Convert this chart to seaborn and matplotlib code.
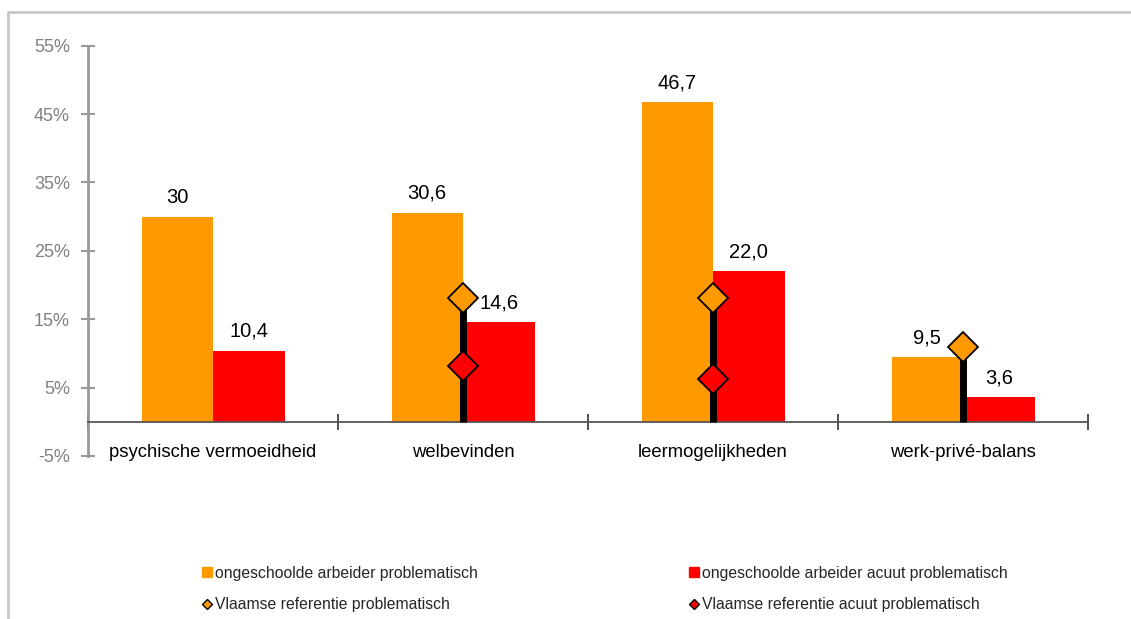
import numpy as np
import pandas as pd
import matplotlib
matplotlib.use('Agg')
import matplotlib.pyplot as plt
from matplotlib.lines import Line2D
import seaborn as sns

categories = ['psychische vermoeidheid', 'welbevinden', 'leermogelijkheden', 'werk-privé-balans']
series = ['ongeschoolde arbeider problematisch', 'ongeschoolde arbeider acuut problematisch']
prob = [30.0, 30.6, 46.7, 9.5]
acuut = [10.4, 14.6, 22.0, 3.6]
prob_labels = ['30', '30,6', '46,7', '9,5']
acuut_labels = ['10,4', '14,6', '22,0', '3,6']
# Vlaamse referentie (None = niet getoond)
ref_prob = [None, 18.1, 18.1, 10.9]
ref_acuut = [None, 8.1, 6.3, None]
ref_names = ['Vlaamse referentie problematisch', 'Vlaamse referentie acuut problematisch']
yticks = [-5, 5, 15, 25, 35, 45, 55]

ORANGE = '#FF9900'
RED = '#FF0000'

sns.set_style('white')
plt.rcParams['font.family'] = ['Liberation Sans', 'DejaVu Sans']

df = pd.DataFrame({
    'categorie': categories * 2,
    'reeks': [series[0]] * 4 + [series[1]] * 4,
    'waarde': prob + acuut,
})

fig = plt.figure(figsize=(11.31, 6.19), dpi=100)
ax = fig.add_axes([88 / 1131, 1 - 456 / 619, 1000 / 1131, (456 - 45.7) / 619])

sns.barplot(data=df, x='categorie', y='waarde', hue='reeks', order=categories,
            hue_order=series, palette=[ORANGE, RED], width=0.572, saturation=1,
            legend=False, ax=ax)
for p in ax.patches:
    p.set_edgecolor('none')

for cont, labs in zip(ax.containers, [prob_labels, acuut_labels]):
    ax.bar_label(cont, labels=labs, padding=7, fontsize=14.5, color='black')

# referentie: zwarte lijn + ruiten
xpos = np.arange(len(categories))
for i, x in enumerate(xpos):
    top = ref_prob[i]
    if top is None:
        continue
    ax.plot([x, x], [0, top], color='black', lw=5, solid_capstyle='butt', zorder=4)
for i, x in enumerate(xpos):
    if ref_acuut[i] is not None:
        ax.plot(x, ref_acuut[i], marker='D', ms=15, mfc=RED, mec='black', mew=1.3, zorder=5)
    if ref_prob[i] is not None:
        ax.plot(x, ref_prob[i], marker='D', ms=15, mfc=ORANGE, mec='black', mew=1.3, zorder=5)

ax.set_xlim(-0.5, 3.5)
ax.set_ylim(-5, 55)
ax.set_yticks(yticks, labels=[f'{t}%' for t in yticks])
ax.tick_params(axis='y', direction='inout', length=10, width=1.5, color='#999999',
               labelcolor='#808080', labelsize=13, pad=8, left=True)

ax.set_xticks(np.arange(-0.5, 4, 1), labels=[''] * 5)
ax.set_xticks(xpos, labels=categories, minor=True)
ax.tick_params(axis='x', which='major', direction='inout', length=11, width=1.3,
               color='#444444', bottom=True)
ax.tick_params(axis='x', which='minor', length=0, labelsize=13.3, pad=16, labelcolor='black')
ax.set_xlabel('')
ax.set_ylabel('')

for s in ['top', 'right']:
    ax.spines[s].set_visible(False)
ax.spines['bottom'].set_position(('data', 0))
ax.spines['bottom'].set_color('#555555')
ax.spines['bottom'].set_linewidth(1.3)
ax.spines['left'].set_color('#999999')
ax.spines['left'].set_linewidth(2)

# kader rond de grafiek
fig.add_artist(Line2D([8 / 1131, 1], [1 - 12 / 619, 1 - 12 / 619], color='#C8C8C8', lw=2))
fig.add_artist(Line2D([8 / 1131, 8 / 1131], [0, 1 - 12 / 619], color='#C8C8C8', lw=2))

# legende
h_prob = Line2D([], [], ls='none', marker='s', ms=6.5, mfc=ORANGE, mec=ORANGE)
h_acuut = Line2D([], [], ls='none', marker='s', ms=6.5, mfc=RED, mec=RED)
h_rprob = Line2D([], [], ls='none', marker='D', ms=5, mfc=ORANGE, mec='black', mew=1)
h_racuut = Line2D([], [], ls='none', marker='D', ms=5, mfc=RED, mec='black', mew=1)
leg_kw = dict(loc='center left', frameon=False, fontsize=11.3, handlelength=0.6,
              handletextpad=0.25, labelspacing=1.05, borderpad=0, borderaxespad=0)
fig.legend([h_prob, h_rprob], [series[0], ref_names[0]],
           bbox_to_anchor=(202 / 1131, 1 - 589 / 619), **leg_kw)
fig.legend([h_acuut, h_racuut], [series[1], ref_names[1]],
           bbox_to_anchor=(689 / 1131, 1 - 589 / 619), **leg_kw)

fig.savefig('out.png', dpi=100)
